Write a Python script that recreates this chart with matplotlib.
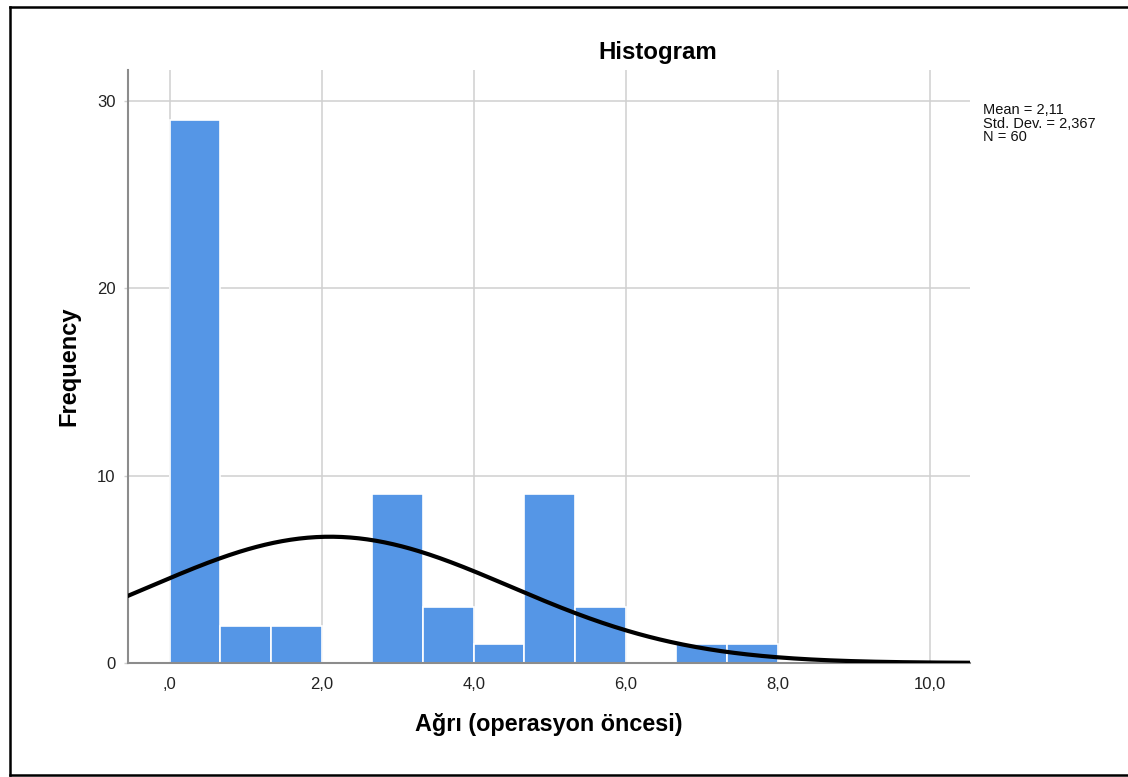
import matplotlib
matplotlib.use("Agg")
import matplotlib.pyplot as plt
from matplotlib.lines import Line2D
import numpy as np

plt.rcParams["font.family"] = ["Liberation Sans", "DejaVu Sans"]

# histogram data (SPSS: Ağrı (operasyon öncesi))
bin_start = 0.0
bin_width = 2 / 3
counts = [29, 2, 2, 0, 9, 3, 1, 9, 3, 0, 1, 1]
mean = 2.11
std_dev = 2.367
n_obs = 60

x_ticks = [0, 2, 4, 6, 8, 10]
x_tick_labels = [",0", "2,0", "4,0", "6,0", "8,0", "10,0"]
y_ticks = [0, 10, 20, 30]

BAR_COLOR = "#5596e6"
GRID_COLOR = "#d0d0d0"
SPINE_COLOR = "#8c8c8c"

fig = plt.figure(figsize=(11.28, 7.77), dpi=100)
ax = fig.add_axes([128 / 1128, 1 - 663 / 777, (970 - 128) / 1128, (663 - 70) / 777])

lefts = bin_start + bin_width * np.arange(len(counts))
ax.bar(lefts, counts, width=bin_width, align="edge", color=BAR_COLOR,
       edgecolor="white", linewidth=1.2, zorder=2)

# fitted normal curve, scaled to counts
xs = np.linspace(-0.6, 10.6, 400)
pdf = np.exp(-0.5 * ((xs - mean) / std_dev) ** 2) / (std_dev * np.sqrt(2 * np.pi))
ax.plot(xs, n_obs * bin_width * pdf, color="black", lw=3, zorder=3,
        solid_capstyle="butt")

ax.set_xlim(-0.55, 10.53)
ax.set_ylim(0, 31.66)
ax.set_xticks(x_ticks)
ax.set_xticklabels(x_tick_labels)
ax.set_yticks(y_ticks)

ax.grid(True, color=GRID_COLOR, lw=1.1, zorder=0)
ax.set_axisbelow(True)
for s in ["top", "right"]:
    ax.spines[s].set_visible(False)
for s in ["left", "bottom"]:
    ax.spines[s].set_color(SPINE_COLOR)
    ax.spines[s].set_linewidth(1.5)
ax.tick_params(axis="x", length=0, pad=10, labelsize=12, colors="#222222")
ax.tick_params(axis="y", length=3, width=1, color=GRID_COLOR, pad=6,
               labelsize=12, labelcolor="#222222")

ax.set_xlabel("Ağrı (operasyon öncesi)", fontsize=16.8, fontweight="bold", labelpad=15)
ax.set_ylabel("Frequency", fontsize=17, fontweight="bold", labelpad=12)

fig.text(658 / 1128, 1 - 52 / 777, "Histogram", fontsize=17.3, fontweight="bold",
         ha="center", va="center")

stats = ["Mean = " + f"{mean:.2f}".replace(".", ","),
         "Std. Dev. = " + f"{std_dev:.3f}".replace(".", ","),
         f"N = {n_obs}"]
for i, line in enumerate(stats):
    fig.text(983 / 1128, 1 - (110 + 13.5 * i) / 777, line, fontsize=10.5,
             ha="left", va="center", color="#111111")

# outer frame (top, left, bottom)
frame_kw = dict(color="black", lw=1.8, transform=fig.transFigure)
fig.add_artist(Line2D([10 / 1128, 1], [1 - 7 / 777, 1 - 7 / 777], **frame_kw))
fig.add_artist(Line2D([10 / 1128, 10 / 1128], [1 - 7 / 777, 1 - 775 / 777], **frame_kw))
fig.add_artist(Line2D([10 / 1128, 1], [1 - 775 / 777, 1 - 775 / 777], **frame_kw))

fig.savefig("out.png", dpi=100)
